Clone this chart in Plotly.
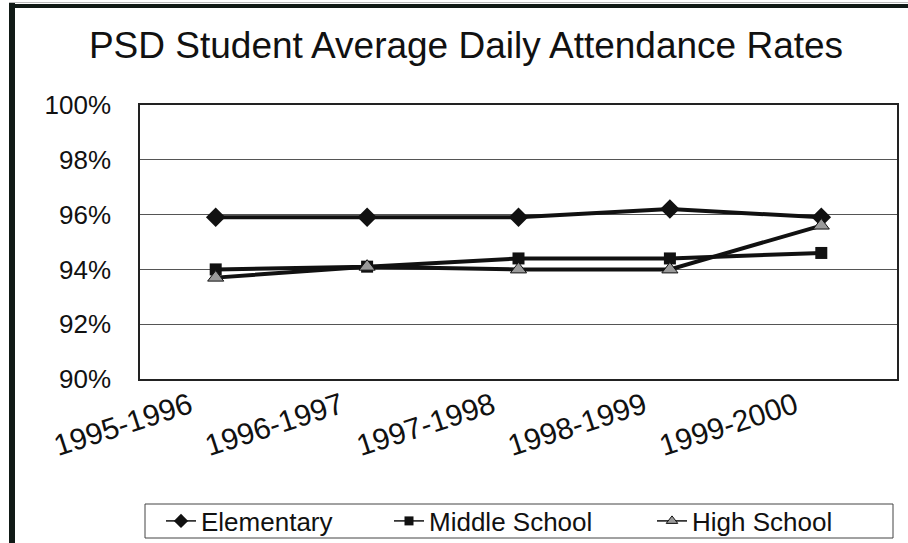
import plotly.graph_objects as go

years = ["1995-1996", "1996-1997", "1997-1998", "1998-1999", "1999-2000"]
elementary = [95.9, 95.9, 95.9, 96.2, 95.9]
middle_school = [94.0, 94.1, 94.4, 94.4, 94.6]
high_school = [93.7, 94.1, 94.0, 94.0, 95.6]
series_names = ["Elementary", "Middle School", "High School"]
y_ticks = [90, 92, 94, 96, 98, 100]
y_tick_labels = ["90%", "92%", "94%", "96%", "98%", "100%"]

FONT = "Liberation Sans, Arial, sans-serif"
LINE = "#111111"
GRAY = "#9a9a9a"

styles = [
    dict(symbol="diamond", size=15, color=LINE, lw=0, lsize=11, lwidth=183),
    dict(symbol="square", size=12, color=LINE, lw=0, lsize=9, lwidth=218),
    dict(symbol="triangle-up", size=14, color=GRAY, lw=1, lsize=10, lwidth=160),
]

fig = go.Figure()
for name, vals, st in zip(series_names, [elementary, middle_school, high_school], styles):
    fig.add_trace(go.Scatter(
        x=years, y=vals, name=name, mode="lines+markers", showlegend=False,
        line=dict(color=LINE, width=4),
        marker=dict(symbol=st["symbol"], size=st["size"], color=st["color"],
                    line=dict(color=LINE, width=st["lw"])),
    ))
# legend-only entries (thin line, small marker, as in the original legend)
for name, st in zip(series_names, styles):
    fig.add_trace(go.Scatter(
        x=[None], y=[None], name=name, mode="lines+markers", showlegend=True,
        legendwidth=st["lwidth"],
        line=dict(color=LINE, width=1.5),
        marker=dict(symbol=st["symbol"], size=st["lsize"], color=st["color"],
                    line=dict(color=LINE, width=st["lw"])),
    ))

# plot area in pixels: x 140..897, y 105..379
L, R, T, B = 140, 897, 105, 379
def px(x):
    return (x - L) / (R - L)
def py(y):
    return (B - y) / (B - T)

shapes = [
    dict(type="line", xref="paper", yref="paper", x0=px(12), x1=px(12), y0=py(3), y1=py(545),
         line=dict(color="#111a16", width=6)),
    dict(type="line", xref="paper", yref="paper", x0=px(9), x1=px(910), y0=py(6), y1=py(6),
         line=dict(color="#111a16", width=4)),
    dict(type="line", xref="paper", yref="paper", x0=px(9), x1=px(910), y0=py(2.5), y1=py(2.5),
         line=dict(color="#bbbbbb", width=1)),
    # legend frame
    dict(type="rect", xref="paper", yref="paper", x0=px(145), x1=px(893), y0=py(504), y1=py(538),
         line=dict(color="#444444", width=1), fillcolor="rgba(0,0,0,0)", layer="below"),
]

fig.update_layout(
    width=908, height=543,
    margin=dict(l=L, r=908 - R, t=T, b=543 - B, autoexpand=False),
    paper_bgcolor="white", plot_bgcolor="white",
    font=dict(family=FONT, color="#111111"),
    title=dict(text="PSD Student Average Daily Attendance Rates",
               x=466 / 908, xanchor="center", xref="container",
               y=1 - 45 / 543, yanchor="middle", yref="container",
               font=dict(size=37, family=FONT, color="#111111")),
    showlegend=True,
    legend=dict(orientation="h", x=px(161), xanchor="left", y=py(521), yanchor="middle",
                borderwidth=0, bgcolor="rgba(0,0,0,0)",
                font=dict(size=26, family=FONT, color="#111111"),
                itemwidth=30, tracegroupgap=0, entrywidthmode="pixels"),
    shapes=shapes,
)
fig.update_xaxes(
    type="category", range=[-0.5, 4.5], tickangle=-18,
    tickfont=dict(size=30, family=FONT, color="#111111"),
    showgrid=False, showline=True, linecolor="#222222", linewidth=1.5, mirror=True,
    ticks="", ticklabelshift=-26, ticklabelstandoff=-4, automargin=False,
)
fig.update_yaxes(
    range=[90, 100], tickvals=y_ticks, ticktext=y_tick_labels,
    tickfont=dict(size=26, family=FONT, color="#111111"),
    showgrid=True, gridcolor="#555555", gridwidth=1,
    showline=True, linecolor="#222222", linewidth=1.5, mirror=True,
    ticks="", ticklabelstandoff=22, zeroline=False, automargin=False,
)

fig.write_html("out.html", config={"displayModeBar": False},
               post_script="document.body.style.margin='0';document.body.style.overflow='hidden';")
